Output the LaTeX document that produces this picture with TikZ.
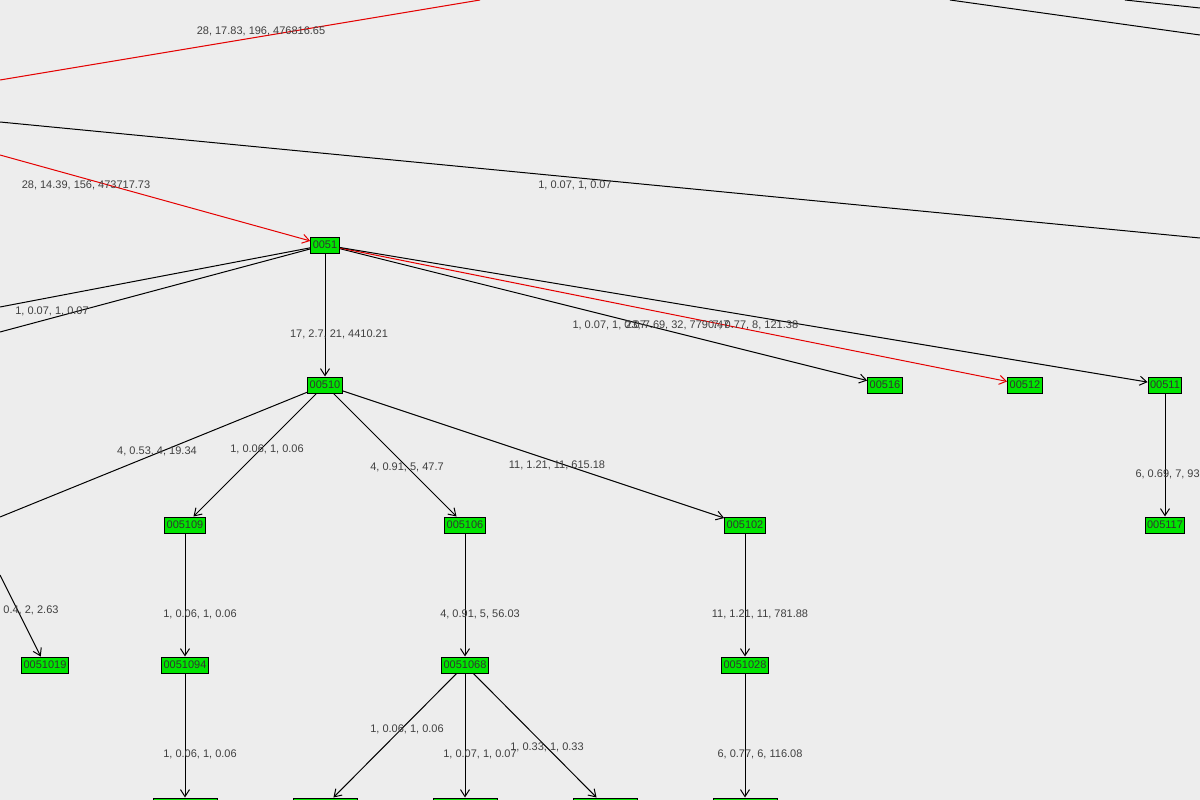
\documentclass[tikz,border=0pt]{standalone}
\usepackage{fontspec}
\setmainfont{Liberation Sans}
\usetikzlibrary{arrows.meta}

\begin{document}
\begin{tikzpicture}[x=1pt,y=-1pt, line width=1pt,
  font=\fontsize{11}{12}\selectfont,
  vertex/.style={draw=black, fill=green!90!black, inner xsep=2pt, inner ysep=1pt, minimum height=16pt, text=black!80},
  stub/.style={vertex, minimum width=64pt},
  link/.style={draw=black, -{Straight Barb[length=7pt,width=9pt]}},
  hot/.style={draw=red!90!black, -{Straight Barb[length=7pt,width=9pt]}},
  weight/.style={text=black!75, inner sep=0pt}]
\fill[black!7] (0,0) rectangle (1200,800);
\clip (0,0) rectangle (1200,800);
% nodes
\node[vertex] (n0051) at (325,245) {0051};
\node[vertex] (n00510) at (325,385) {00510};
\node[vertex] (n00516) at (885,385) {00516};
\node[vertex] (n00512) at (1025,385) {00512};
\node[vertex] (n00511) at (1165,385) {00511};
\node[vertex] (n005109) at (185,525) {005109};
\node[vertex] (n005106) at (465,525) {005106};
\node[vertex] (n005102) at (745,525) {005102};
\node[vertex] (n005117) at (1165,525) {005117};
\node[vertex] (n0051019) at (45,665) {0051019};
\node[vertex] (n0051094) at (185,665) {0051094};
\node[vertex] (n0051068) at (465,665) {0051068};
\node[vertex] (n0051028) at (745,665) {0051028};
\node[stub] (n00510941) at (185,806) {};
\node[stub] (n00510681) at (325,806) {};
\node[stub] (n00510682) at (465,806) {};
\node[stub] (n00510683) at (605,806) {};
\node[stub] (n00510281) at (745,806) {};
% loose ends
\coordinate (r1) at (0,80); \coordinate (r2) at (480,0);
\coordinate (b1) at (0,122); \coordinate (b2) at (1200,238);
\coordinate (b3) at (950,0); \coordinate (b4) at (1200,35);
\coordinate (b5) at (1125,0); \coordinate (b6) at (1200,8);
\coordinate (r3) at (0,155);
\coordinate (l1) at (0,307); \coordinate (l2) at (0,332);
\coordinate (l3) at (0,517); \coordinate (l4) at (0,575);
% connectors
\draw[red!90!black] (r1) -- (r2);
\draw (b1) -- (b2);
\draw (b3) -- (b4);
\draw (b5) -- (b6);
\draw[hot] (r3) -- (n0051);
\draw (n0051) -- (l1);
\draw (n0051) -- (l2);
\draw[link] (n0051) -- (n00510);
\draw[link] (n0051) -- (n00516);
\draw[hot] (n0051) -- (n00512);
\draw[link] (n0051) -- (n00511);
\draw (n00510) -- (l3);
\draw[link] (n00510) -- (n005109);
\draw[link] (n00510) -- (n005106);
\draw[link] (n00510) -- (n005102);
\draw[link] (n00511) -- (n005117);
\draw[link] (l4) -- (n0051019);
\draw[link] (n005109) -- (n0051094);
\draw[link] (n005106) -- (n0051068);
\draw[link] (n005102) -- (n0051028);
\draw[link] (n0051094) -- (n00510941);
\draw[link] (n0051068) -- (n00510681);
\draw[link] (n0051068) -- (n00510682);
\draw[link] (n0051068) -- (n00510683);
\draw[link] (n0051028) -- (n00510281);
% labels
\node[weight] (w1) at (261,31) {28, 17.83, 196, 476816.65};
\node[weight] (w2) at (86,185) {28, 14.39, 156, 473717.73};
\node[weight] (w3) at (575,185) {1, 0.07, 1, 0.07};
\node[weight] (w4) at (52,311) {1, 0.07, 1, 0.07};
\node[weight] (w5) at (339,334) {17, 2.7, 21, 4410.21};
\node[weight, anchor=west] (w6) at (572,325) {1, 0.07, 1, 0.07};
\node[weight, anchor=west] (w7) at (625,325) {23, 7.69, 32, 7790.47};
\node[weight, anchor=west] (w8) at (712,325) {7, 0.77, 8, 121.38};
\node[weight] (w9) at (157,451) {4, 0.53, 4, 19.34};
\node[weight] (w10) at (267,449) {1, 0.06, 1, 0.06};
\node[weight] (w11) at (407,467) {4, 0.91, 5, 47.7};
\node[weight] (w12) at (557,465) {11, 1.21, 11, 615.18};
\node[weight, anchor=west] (w13) at (1135,474) {6, 0.69, 7, 93.12};
\node[weight, anchor=east] (w14) at (59,610) {4, 0.4, 2, 2.63};
\node[weight] (w15) at (200,614) {1, 0.06, 1, 0.06};
\node[weight] (w16) at (480,614) {4, 0.91, 5, 56.03};
\node[weight] (w17) at (760,614) {11, 1.21, 11, 781.88};
\node[weight] (w18) at (200,754) {1, 0.06, 1, 0.06};
\node[weight] (w19) at (407,729) {1, 0.06, 1, 0.06};
\node[weight] (w20) at (480,754) {1, 0.07, 1, 0.07};
\node[weight] (w21) at (547,747) {1, 0.33, 1, 0.33};
\node[weight] (w22) at (760,754) {6, 0.77, 6, 116.08};
\end{tikzpicture}
\end{document}
